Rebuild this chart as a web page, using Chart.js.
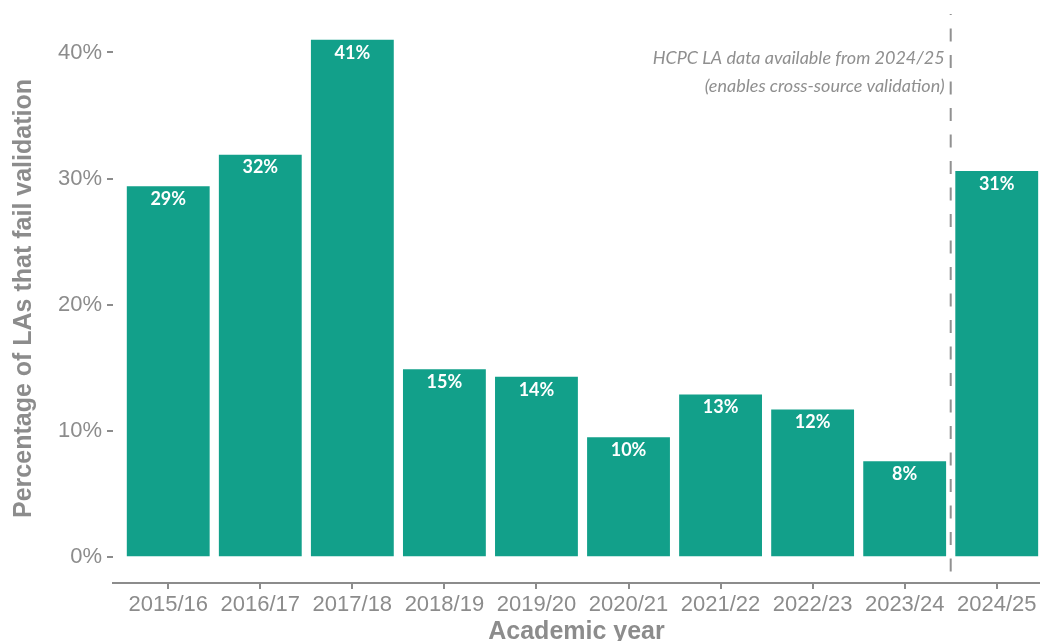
<!DOCTYPE html>
<html>
<head>
<meta charset="utf-8">
<script src="https://cdn.jsdelivr.net/npm/chart.js@4"></script>
<style>
  html, body { margin: 0; padding: 0; background: #fff; overflow: hidden; }
  canvas { display: block; }
</style>
</head>
<body>
<canvas id="failChart" width="1040" height="641"></canvas>
<script>
// academic years on the x axis
const years = ['2015/16', '2016/17', '2017/18', '2018/19', '2019/20', '2020/21', '2021/22', '2022/23', '2023/24', '2024/25'];
// share of LAs failing validation (%)
const failPct = [29.4, 31.9, 41.0, 14.9, 14.3, 9.5, 12.9, 11.7, 7.6, 30.6];
// y axis ticks (%)
const yTicks = [0, 10, 20, 30, 40];
// HCPC data starts between these two years
const hcpcSplit = 8.5;
const noteLines = ['HCPC LA data available from 2024/25', '(enables cross-source validation)'];

const grey = '#8c8c8c';
const teal = '#12a08a';

Chart.defaults.font.family = "'Liberation Sans', Arial, sans-serif";
Chart.defaults.color = grey;

// dashed split line, the note next to it and the % labels inside the bars
const extras = {
    id: 'extras',
    afterDatasetsDraw(chart) {
        const { ctx, chartArea, scales } = chart;
        const x = scales.x.getPixelForValue(hcpcSplit);

        ctx.save();
        ctx.strokeStyle = '#919191';
        ctx.lineWidth = 2;
        ctx.setLineDash([13, 13.5]);
        ctx.lineDashOffset = 12;
        ctx.beginPath();
        ctx.moveTo(x, chartArea.top);
        ctx.lineTo(x, chartArea.bottom);
        ctx.stroke();
        ctx.setLineDash([]);

        ctx.font = 'italic 18px Lato, sans-serif';
        ctx.fillStyle = '#8f8f8f';
        ctx.textAlign = 'right';
        ctx.textBaseline = 'middle';
        noteLines.forEach((line, i) => {
            ctx.fillText(line, x - 6, chartArea.top + 44 + i * 28);
        });

        ctx.font = 'bold 18px Lato, sans-serif';
        ctx.fillStyle = '#fff';
        ctx.textAlign = 'center';
        chart.getDatasetMeta(0).data.forEach((bar, i) => {
            ctx.fillText(Math.round(failPct[i]) + '%', bar.x, bar.y + 13);
        });
        ctx.restore();
    }
};

new Chart(document.getElementById('failChart'), {
    type: 'bar',
    data: {
        datasets: [{
            data: failPct.map((v, i) => ({ x: i, y: v })),
            backgroundColor: teal,
            borderWidth: 0,
            barPercentage: 0.9,
            categoryPercentage: 1
        }]
    },
    options: {
        responsive: false,
        animation: false,
        devicePixelRatio: 1,
        layout: { padding: { top: 14, right: 0, bottom: 0, left: 0 } },
        plugins: {
            legend: { display: false },
            tooltip: { enabled: false }
        },
        scales: {
            x: {
                type: 'linear',
                offset: false,
                min: -0.6,
                max: 9.47,
                afterBuildTicks: scale => {
                    scale.ticks = years.map((y, i) => ({ value: i }));
                },
                afterFit: scale => { scale.height = 58; },
                ticks: {
                    autoSkip: false,
                    maxRotation: 0,
                    padding: 3,
                    color: grey,
                    font: { size: 22 },
                    callback: v => years[v]
                },
                grid: {
                    offset: false,
                    drawOnChartArea: false,
                    drawTicks: true,
                    tickLength: 6,
                    color: grey,
                    lineWidth: 2
                },
                border: { display: true, color: grey, width: 2 },
                title: {
                    display: true,
                    text: 'Academic year',
                    color: grey,
                    font: { size: 25, weight: 'bold', lineHeight: 1 },
                    padding: { top: 0, bottom: -4 }
                }
            },
            y: {
                min: -2.05,
                max: 43.05,
                afterBuildTicks: scale => {
                    scale.ticks = yTicks.map(v => ({ value: v }));
                },
                afterFit: scale => { scale.width = 113; },
                ticks: {
                    padding: 5,
                    color: grey,
                    font: { size: 22, lineHeight: 0.8 },
                    callback: v => v + '%'
                },
                grid: {
                    drawOnChartArea: false,
                    drawTicks: true,
                    tickLength: 6,
                    color: grey,
                    lineWidth: 2
                },
                border: { display: false },
                title: {
                    display: true,
                    text: 'Percentage of LAs that fail validation',
                    color: grey,
                    font: { size: 25, weight: 'bold', lineHeight: 1 },
                    padding: { top: 12, bottom: 0 }
                }
            }
        }
    },
    plugins: [extras]
});
</script>
</body>
</html>
